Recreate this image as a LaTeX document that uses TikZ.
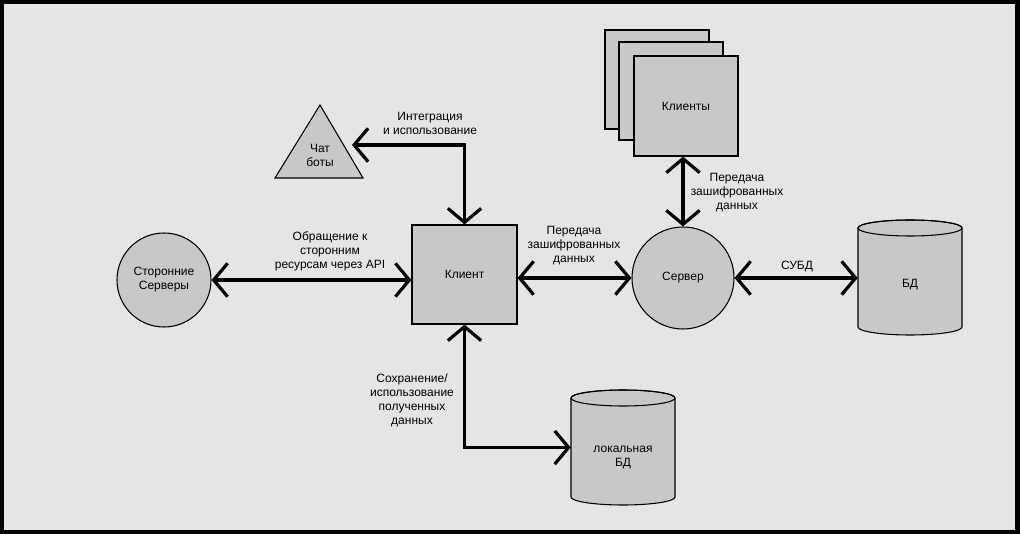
\documentclass[tikz,border=0pt]{standalone}
\usepackage{fontspec}
\setmainfont{Liberation Sans}
\usetikzlibrary{arrows.meta}
\definecolor{bgc}{HTML}{E5E5E5}
\definecolor{shp}{HTML}{C8C8C8}
\tikzset{
  shapebox/.style={draw=black, line width=0.8pt, fill=shp, inner sep=0pt},
  lbl/.style={font=\fontsize{9pt}{10.5pt}\selectfont, align=center, inner sep=0pt},
  barb/.tip={Straight Barb[length=10.5pt,width=25pt,line width=2.4pt]},
  conn/.style={line width=2.3pt, arrows={barb-barb}},
}
\begin{document}
\begin{tikzpicture}[x=0.75pt,y=-0.75pt]
\useasboundingbox (0,0) rectangle (1020,534);
\fill[black] (0,0) rectangle (1020,534);
\fill[bgc] (4,4) rectangle (1015,530);

% Client
\node[shapebox, rectangle, minimum width=105*0.75pt, minimum height=99*0.75pt, lbl] (client) at (464.5,274.5) {Клиент};

% Clients stack
\node[shapebox, rectangle, minimum width=104*0.75pt, minimum height=99*0.75pt] (cl3) at (657,79.5) {};
\node[shapebox, rectangle, minimum width=104*0.75pt, minimum height=98*0.75pt] (cl2) at (671,91) {};
\node[shapebox, rectangle, minimum width=104*0.75pt, minimum height=100*0.75pt, lbl] (clients) at (686,106) {Клиенты};

% Server
\node[shapebox, circle, minimum size=102*0.75pt, lbl] (server) at (683,278) {Сервер};

% External servers
\node[shapebox, circle, minimum size=94*0.75pt, lbl] (ext) at (164,280) {Сторонние\\Серверы};

% Chat bots triangle
\draw[shapebox] (320,105) -- (363,178) -- (275,178) -- cycle;
\node[lbl] (chat) at (320,155) {Чат\\боты};
\coordinate (chatR) at (352,145);

% DB cylinder
\draw[shapebox] (858,228) -- (858,327) arc[start angle=180, end angle=360, x radius=39pt, y radius=6pt] -- (962,228) arc[start angle=0, end angle=180, x radius=39pt, y radius=6pt] -- cycle;
\draw[line width=0.8pt] (910,228) ellipse[x radius=39pt, y radius=6pt];
\node[lbl, minimum width=104*0.75pt, minimum height=115*0.75pt] (bd) at (910,277.5) {};
\node[lbl] (bdt) at (910,285) {БД};

% Local DB cylinder
\draw[shapebox] (571,398) -- (571,497) arc[start angle=180, end angle=360, x radius=39pt, y radius=6pt] -- (675,398) arc[start angle=0, end angle=180, x radius=39pt, y radius=6pt] -- cycle;
\draw[line width=0.8pt] (623,398) ellipse[x radius=39pt, y radius=6pt];
\node[lbl, minimum width=104*0.75pt, minimum height=115*0.75pt] (lbd) at (623,447.5) {};
\node[lbl] (lbdt) at (623,457) {локальная\\БД};

% Connectors
\draw[conn] (chatR) -| (client.north);
\draw[conn] (ext.east) -- (ext.east -| client.west);
\draw[conn] (client.east |- server.west) -- (server.west);
\draw[conn] (server.east) -- (server.east -| bd.west);
\draw[conn] (server.north |- clients.south) -- (server.north);
\draw[conn] (client.south) |- (lbd.west);

% Labels
\node[lbl] (l1) at (430,123) {Интеграция\\и использование};
\node[lbl] (l2) at (330,251) {Обращение к\\сторонним\\ресурсам через API};
\node[lbl] (l3) at (574,246) {Передача\\зашифрованных\\данных};
\node[lbl] (l4) at (737,193) {Передача\\зашифрованных\\данных};
\node[lbl] (l5) at (797,267) {СУБД};
\node[lbl] (l6) at (412,400) {Сохранение/\\использование\\полученных\\данных};
\end{tikzpicture}
\end{document}
